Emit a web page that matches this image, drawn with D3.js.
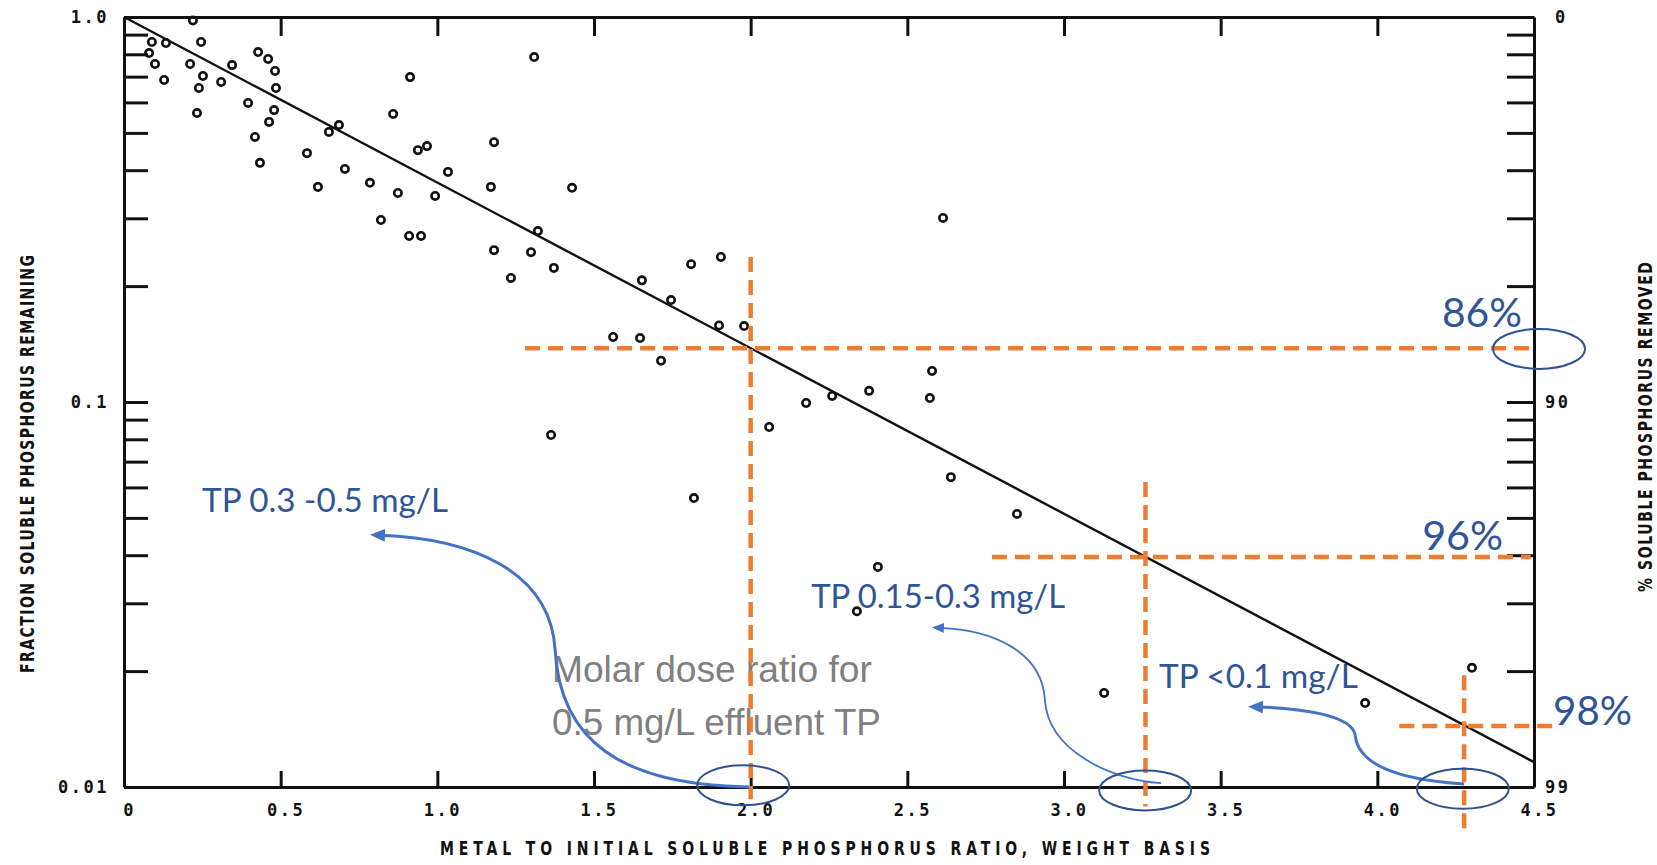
<!DOCTYPE html>
<html>
<head>
<meta charset="utf-8">
<script src="https://cdnjs.cloudflare.com/ajax/libs/d3/7.8.5/d3.min.js"></script>
<style>
  body { margin: 0; background: #fff; }
  svg { display: block; }
</style>
</head>
<body>
<div id="chart"></div>
<script>
// SVG area dimensions
var svgWidth = 1657;
var svgHeight = 865;
// margins put the plot frame where the scanned figure has it
var chartMargin = { top: 17, right: 123, bottom: 78, left: 124 };
var chartWidth = svgWidth - chartMargin.left - chartMargin.right;
var chartHeight = svgHeight - chartMargin.top - chartMargin.bottom;

// scatter points (metal : P ratio, fraction P remaining)
var ratioValues = [0.220, 0.089, 0.134, 0.246, 0.080, 0.099, 0.211, 0.345, 0.428, 0.460,
  0.482, 0.128, 0.252, 0.239, 0.310, 0.485, 0.233, 0.396, 0.479, 0.463,
  0.418, 0.434, 0.913, 0.859, 0.686, 0.654, 0.584, 0.705, 0.619, 0.785,
  0.938, 0.967, 1.034, 0.874, 0.993, 0.820, 0.910, 0.948, 1.181, 1.171,
  1.309, 1.321, 1.181, 1.299, 1.235, 1.372, 1.363, 1.430, 1.653, 1.746,
  1.810, 1.905, 1.899, 1.979, 1.561, 1.647, 1.714, 2.614, 2.177, 2.260,
  2.378, 2.579, 2.572, 2.059, 1.819, 2.639, 2.850, 2.406, 2.339, 3.128,
  3.961, 4.302];
var fractionValues = [0.98, 0.861, 0.856, 0.861, 0.806, 0.755, 0.755, 0.750, 0.811, 0.778,
  0.724, 0.686, 0.703, 0.654, 0.678, 0.654, 0.563, 0.598, 0.573, 0.534,
  0.488, 0.418, 0.698, 0.560, 0.524, 0.503, 0.443, 0.403, 0.362, 0.371,
  0.451, 0.462, 0.396, 0.349, 0.343, 0.297, 0.270, 0.270, 0.473, 0.362,
  0.787, 0.278, 0.248, 0.245, 0.210, 0.223, 0.0821, 0.360, 0.207, 0.184,
  0.228, 0.238, 0.158, 0.1575, 0.1475, 0.1466, 0.128, 0.3006, 0.0994, 0.1037,
  0.1069, 0.1204, 0.1024, 0.0861, 0.0563, 0.0638, 0.0512, 0.0373, 0.0286, 0.01755,
  0.01652, 0.0204];

// fitted line
var fitRatio = [0, 4.5];
var fitFraction = [1.0, 0.0116];

// axis ticks
var xTickValues = [0, 0.5, 1.0, 1.5, 2.0, 2.5, 3.0, 3.5, 4.0, 4.5];
var xTickLabels = ["0", "0.5", "1.0", "1.5", "2.0", "2.5", "3.0", "3.5", "4.0", "4.5"];
var xInnerTicks = [0.5, 1.0, 1.5, 2.0, 2.5, 3.0, 3.5, 4.0];
var yTickValues = [1, 0.9, 0.8, 0.7, 0.6, 0.5, 0.4, 0.3, 0.2, 0.1,
  0.09, 0.08, 0.07, 0.06, 0.05, 0.04, 0.03, 0.02, 0.01];
var yLabelValues = [1, 0.1, 0.01];
var yLeftLabels = ["1.0", "0.1", "0.01"];
var yRightLabels = ["0", "90", "99"];

// orange guide lines added over the figure
var guideRatio = [2.0, 3.26, 4.277];
var guideFraction = [0.138, 0.0396, 0.0144];
var guideTop = [0.238, 0.062, 0.0195];
var guideBottom = [0.0093, 0.0089, 0.0075];
var guideStart = [1.28, 2.77, 4.07];
var guideEnd = [4.5, 4.49, 4.58];

// removal percentages
var removalLabels = ["86%", "96%", "98%"];
var removalRatio = [4.206, 4.143, 4.561];
var removalFraction = [0.1567, 0.0413, 0.01449];

// effluent TP notes
var noteLabels = ["TP 0.3 -0.5 mg/L", "TP 0.15-0.3 mg/L", "TP <0.1 mg/L"];
var noteRatio = [0.249, 2.193, 3.303];
var noteFraction = [0.0518, 0.0292, 0.0181];

// grey caption
var captionLines = ["Molar dose ratio for", "0.5 mg/L effluent TP"];
var captionRatio = 1.366;
var captionFraction = [0.01875, 0.01365];

// ellipses
var ringRatio = [4.516, 1.976, 3.259, 4.273];
var ringFraction = [0.1374, 0.0101, 0.0098, 0.0099];

// curved arrows (two cubic pieces each)
var arrowPoints = [
  [[1.995, 0.0100], [1.583, 0.01012], [1.391, 0.01324], [1.376, 0.0227], [1.360, 0.0366], [1.104, 0.0443], [0.817, 0.0451]],
  [[3.310, 0.01024], [3.147, 0.01043], [2.949, 0.01248], [2.939, 0.01683], [2.930, 0.0227], [2.764, 0.0256], [2.604, 0.0259]],
  [[4.277, 0.01018], [4.072, 0.01043], [3.938, 0.0114], [3.929, 0.01365], [3.919, 0.01538], [3.753, 0.01603], [3.619, 0.01614]]
];

var svg = d3.select("#chart")
  .append("svg")
  .attr("width", svgWidth)
  .attr("height", svgHeight);

var chartGroup = svg.append("g")
  .attr("transform", `translate(${chartMargin.left}, ${chartMargin.top})`);

var xLinearScale = d3.scaleLinear().domain([0, 4.5]).range([0, chartWidth]);
var yLogScale = d3.scaleLog().domain([0.01, 1]).range([chartHeight, 0]);

function labelFor(d, labels) {
  var i = yLabelValues.findIndex(v => Math.abs(v - d) < 1e-9);
  return i < 0 ? "" : labels[i];
}

// axes - ticks point inwards like the original
var leftAxis = d3.axisLeft(yLogScale).tickValues(yTickValues)
  .tickSizeInner(-24).tickSizeOuter(0).tickPadding(15)
  .tickFormat(d => labelFor(d, yLeftLabels));
var rightAxis = d3.axisRight(yLogScale).tickValues(yTickValues)
  .tickSizeInner(-27).tickSizeOuter(0).tickPadding(11)
  .tickFormat(d => labelFor(d, yRightLabels));
var bottomAxis = d3.axisBottom(xLinearScale).tickValues(xTickValues)
  .tickSizeInner(-16).tickSizeOuter(0).tickPadding(17)
  .tickFormat((d, i) => xTickLabels[i]);
var topAxis = d3.axisTop(xLinearScale).tickValues(xInnerTicks)
  .tickSizeInner(-19).tickSizeOuter(0).tickFormat("");

var yLeft = chartGroup.append("g").attr("class", "axis").call(leftAxis);
var yRight = chartGroup.append("g").attr("class", "axis")
  .attr("transform", `translate(${chartWidth}, 0)`).call(rightAxis);
var xBottom = chartGroup.append("g").attr("class", "axis")
  .attr("transform", `translate(0, ${chartHeight})`).call(bottomAxis);
chartGroup.append("g").attr("class", "axis").call(topAxis);

chartGroup.selectAll(".axis path, .axis line")
  .attr("stroke", "#111")
  .attr("stroke-width", 3);
chartGroup.selectAll(".axis text")
  .attr("fill", "#111")
  .style("font-family", "'DejaVu Sans Mono', 'Liberation Mono', monospace")
  .style("font-weight", "bold")
  .style("font-size", "17px")
  .style("letter-spacing", "2.5px");
// the top "0" on the right sits a little further out
yRight.selectAll("text").filter(function() { return this.textContent === "0"; })
  .attr("dx", 10);
// bottom labels sit a little right of their ticks
xBottom.selectAll("text").attr("dx", 5);

// axis titles: bold sans squeezed sideways to get the tall lettering-guide look
var squeeze = 0.7;
function addTitle(transform, length, label) {
  svg.append("text")
    .attr("transform", `${transform} scale(${squeeze}, 1)`)
    .attr("text-anchor", "middle")
    .attr("textLength", length / squeeze).attr("lengthAdjust", "spacing")
    .style("font-family", "'DejaVu Sans', sans-serif")
    .style("font-weight", "bold").style("font-size", "20px")
    .attr("fill", "#111")
    .text(label);
}
addTitle("translate(825, 855)", 770, "METAL TO INITIAL SOLUBLE PHOSPHORUS RATIO, WEIGHT BASIS");
addTitle("translate(34, 464) rotate(-90)", 418, "FRACTION SOLUBLE PHOSPHORUS REMAINING");
addTitle("translate(1652, 427) rotate(-90)", 330, "% SOLUBLE PHOSPHORUS REMOVED");

// fit a text element to a target width by changing its font size
function fitWidth(sel, width) {
  var fs = parseFloat(sel.style("font-size"));
  var w = sel.node().getComputedTextLength();
  sel.style("font-size", (fs * width / w) + "px");
}

// grey caption
var captionWidths = [320, 329];
captionLines.forEach(function(t, i) {
  var c = chartGroup.append("text")
    .attr("x", xLinearScale(captionRatio))
    .attr("y", yLogScale(captionFraction[i]))
    .attr("fill", "#808080")
    .style("font-family", "'Liberation Sans', Arial, sans-serif")
    .style("font-size", "37px")
    .text(t);
  fitWidth(c, captionWidths[i]);
});

// TP notes
var noteWidths = [246, 254, 199];
noteLabels.forEach(function(t, i) {
  var n = chartGroup.append("text")
    .attr("x", xLinearScale(noteRatio[i]))
    .attr("y", yLogScale(noteFraction[i]))
    .attr("fill", "#2F5597")
    .style("font-family", "Lato, 'Open Sans', sans-serif")
    .style("font-size", "34px")
    .text(t);
  fitWidth(n, noteWidths[i]);
});

// removal labels
var removalWidths = [80, 81, 79];
removalLabels.forEach(function(t, i) {
  var r = chartGroup.append("text")
    .attr("x", xLinearScale(removalRatio[i]))
    .attr("y", yLogScale(removalFraction[i]))
    .attr("fill", "#2F5597")
    .style("font-family", "Lato, 'Open Sans', sans-serif")
    .style("font-size", "42px")
    .text(t);
  fitWidth(r, removalWidths[i]);
});

// scatter circles
var points = ratioValues.map((r, i) => ({ ratio: r, fraction: fractionValues[i] }));
chartGroup.selectAll("circle.pt")
  .data(points)
  .enter()
  .append("circle")
  .attr("class", "pt")
  .attr("cx", d => xLinearScale(d.ratio))
  .attr("cy", d => yLogScale(d.fraction))
  .attr("r", 3.7)
  .attr("fill", "none")
  .attr("stroke", "#111")
  .attr("stroke-width", 2.6);

// fitted line
var fitData = fitRatio.map((r, i) => ({ ratio: r, fraction: fitFraction[i] }));
chartGroup.append("path")
  .datum(fitData)
  .attr("d", d3.line().x(d => xLinearScale(d.ratio)).y(d => yLogScale(d.fraction)))
  .attr("fill", "none")
  .attr("stroke", "#111")
  .attr("stroke-width", 2.4);

// orange dashed guides
guideRatio.forEach(function(g, i) {
  chartGroup.append("line")
    .attr("x1", xLinearScale(g)).attr("x2", xLinearScale(g))
    .attr("y1", yLogScale(guideTop[i])).attr("y2", yLogScale(guideBottom[i]))
    .attr("class", "guide");
  chartGroup.append("line")
    .attr("x1", xLinearScale(guideStart[i])).attr("x2", xLinearScale(guideEnd[i]))
    .attr("y1", yLogScale(guideFraction[i])).attr("y2", yLogScale(guideFraction[i]))
    .attr("class", "guide");
});
chartGroup.selectAll("line.guide")
  .attr("stroke", "#ED7D31")
  .attr("stroke-width", 4.5)
  .attr("stroke-dasharray", "15,8");

// arrow heads
var defs = svg.append("defs");
defs.append("marker")
  .attr("id", "headBig")
  .attr("markerUnits", "userSpaceOnUse")
  .attr("viewBox", "0 0 15 13")
  .attr("markerWidth", 15).attr("markerHeight", 13)
  .attr("refX", 5).attr("refY", 6.5)
  .attr("orient", "auto")
  .append("path").attr("d", "M0,0 L15,6.5 L0,13 Z").attr("fill", "#4472C4");
defs.append("marker")
  .attr("id", "headSmall")
  .attr("markerUnits", "userSpaceOnUse")
  .attr("viewBox", "0 0 12 10")
  .attr("markerWidth", 12).attr("markerHeight", 10)
  .attr("refX", 4).attr("refY", 5)
  .attr("orient", "auto")
  .append("path").attr("d", "M0,0 L12,5 L0,10 Z").attr("fill", "#4472C4");

function arrowPath(pts) {
  var p = pts.map(d => [xLinearScale(d[0]), yLogScale(d[1])]);
  return `M${p[0]} C${p[1]} ${p[2]} ${p[3]} C${p[4]} ${p[5]} ${p[6]}`;
}
var arrowWidths = [3, 1.8, 3];
arrowPoints.forEach(function(pts, i) {
  chartGroup.append("path")
    .attr("d", arrowPath(pts))
    .attr("fill", "none")
    .attr("stroke", "#4472C4")
    .attr("stroke-width", arrowWidths[i])
    .attr("marker-end", i === 1 ? "url(#headSmall)" : "url(#headBig)");
});

// ellipses
chartGroup.selectAll("ellipse")
  .data(ringRatio)
  .enter()
  .append("ellipse")
  .attr("cx", d => xLinearScale(d))
  .attr("cy", (d, i) => yLogScale(ringFraction[i]))
  .attr("rx", 46)
  .attr("ry", 20)
  .attr("fill", "none")
  .attr("stroke", "#2F528F")
  .attr("stroke-width", 2);
</script>
</body>
</html>
